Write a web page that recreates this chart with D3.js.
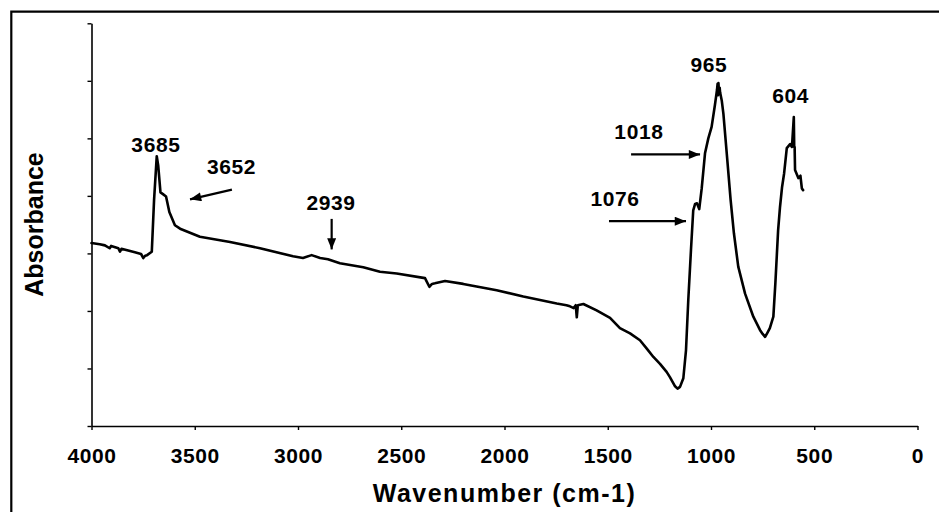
<!DOCTYPE html>
<html>
<head>
<meta charset="utf-8">
<script src="https://cdn.jsdelivr.net/npm/d3@7"></script>
<style>
  html, body { margin: 0; padding: 0; background: #fff; }
  svg { display: block; }
  text { font-family: "Liberation Sans", Arial, Helvetica, sans-serif; font-weight: bold; fill: #000; }
</style>
</head>
<body>
<svg id="chart" width="939" height="512"></svg>
<script>
// ---- data ----
const wavenumber = [4000,3960,3935,3912,3905,3870,3862,3855,3813,3790,3760,3749,3740,3731,3708,3697,3684,3677,3666,3654,3639,3623,3596,3571,3475,3329,3184,3024,2976,2934,2893,2855,2797,2684,2603,2522,2385,2364,2351,2337,2288,2200,2038,1909,1747,1700,1683,1665,1655,1650,1645,1618,1554,1489,1441,1392,1344,1310,1279,1247,1215,1199,1174,1162,1150,1134,1121,1110,1097,1086,1077,1068,1057,1045,1029,1013,997,981,971,968,966,964,961,958,956,948,940,921,905,889,868,835,795,763,750,738,727,715,698,688,675,666,656,646,633,617,608,599,597,595,593,577,567,560,554,550];
const absorbance = [3.18,3.16,3.14,3.09,3.13,3.09,3.03,3.08,3.04,3.02,2.99,2.92,2.96,2.97,3.03,3.93,4.69,4.53,4.06,4.03,3.99,3.72,3.49,3.43,3.29,3.20,3.09,2.95,2.92,2.97,2.92,2.90,2.83,2.76,2.68,2.65,2.57,2.42,2.47,2.48,2.52,2.47,2.36,2.25,2.13,2.10,2.08,2.05,2.10,1.89,2.10,2.12,2.01,1.88,1.70,1.61,1.49,1.34,1.20,1.08,0.94,0.85,0.69,0.65,0.68,0.83,1.32,2.19,3.06,3.75,3.86,3.87,3.77,4.13,4.74,5.00,5.20,5.58,5.84,5.95,5.75,5.96,5.78,5.88,5.80,5.66,5.43,4.62,3.93,3.35,2.77,2.30,1.90,1.67,1.60,1.55,1.62,1.70,1.90,2.50,3.40,3.80,4.15,4.39,4.83,4.90,4.85,5.37,4.85,4.85,4.45,4.31,4.35,4.13,4.10];

const xTicks = [4000,3500,3000,2500,2000,1500,1000,500,0];
const yTicks = [0,1,2,3,4,5,6,7];

// annotation labels (data coordinates)
const labelText = ["3685","3652","2939","1018","1076","965","604"];
const labelWn   = [3688, 3322, 2840, 1349, 1465, 1010, 614];
const labelAbs  = [4.76, 4.38, 3.75, 4.99, 3.82, 6.15, 5.61];

// arrows (data coordinates): from -> to
const arrowFromWn  = [3320, 2837, 1387, 1494];
const arrowFromAbs = [4.11, 3.60, 4.72, 3.56];
const arrowToWn    = [3523, 2837, 1053, 1121];
const arrowToAbs   = [3.94, 3.07, 4.72, 3.56];

// ---- drawing ----
const svg = d3.select("#chart");
const W = 939, H = 512;
const mLeft = 91.5, mRight = 917.5, mTop = 23.3, mBottom = 426;

svg.append("rect").attr("width", W).attr("height", H).attr("fill", "#fff");

// outer frame (left and top)
svg.append("path")
  .attr("d", `M11.3,${H} L11.3,11.7 L${W},11.7`)
  .attr("fill", "none").attr("stroke", "#000").attr("stroke-width", 2.2);

const x = d3.scaleLinear().domain([4000, 0]).range([mLeft, mRight]);
const y = d3.scaleLinear().domain([0, 7]).range([mBottom, mTop]);

// x axis
const xAxis = svg.append("g").attr("transform", `translate(0,${mBottom})`)
  .call(d3.axisBottom(x).tickValues(xTicks).tickSize(4).tickSizeOuter(0).tickFormat(d3.format("d")));
xAxis.select(".domain").attr("stroke-width", 1.6);
xAxis.selectAll(".tick line").attr("stroke-width", 1.4);
xAxis.selectAll(".tick text")
  .attr("y", 37).attr("dy", 0)
  .style("font-size", "21px").style("letter-spacing", "0.6px")
  .style("font-family", "'Liberation Sans', Arial, sans-serif").style("font-weight", "bold");

// y axis
const yAxis = svg.append("g").attr("transform", `translate(${mLeft},0)`)
  .call(d3.axisLeft(y).tickValues(yTicks).tickSize(4).tickSizeOuter(0).tickFormat(""));
yAxis.select(".domain").attr("stroke-width", 1.6);
yAxis.selectAll(".tick line").attr("stroke-width", 1.4);

// spectrum line
const pts = wavenumber.map((w, i) => [w, absorbance[i]]);
svg.append("path")
  .datum(pts)
  .attr("fill", "none").attr("stroke", "#000").attr("stroke-width", 2.6)
  .attr("stroke-linejoin", "round").attr("stroke-linecap", "round")
  .attr("d", d3.line().x(d => x(d[0])).y(d => y(d[1])));

// arrowhead marker
svg.append("defs").append("marker")
  .attr("id", "ah").attr("viewBox", "0 0 10 8").attr("refX", 10).attr("refY", 4)
  .attr("markerUnits", "userSpaceOnUse").attr("markerWidth", 12).attr("markerHeight", 9)
  .attr("orient", "auto")
  .append("path").attr("d", "M0,0 L10,4 L0,8 Z").attr("fill", "#000");

arrowFromWn.forEach((w, i) => {
  svg.append("line")
    .attr("x1", x(w)).attr("y1", y(arrowFromAbs[i]))
    .attr("x2", x(arrowToWn[i])).attr("y2", y(arrowToAbs[i]))
    .attr("stroke", "#000").attr("stroke-width", 2.2)
    .attr("marker-end", "url(#ah)");
});

// labels
labelText.forEach((t, i) => {
  svg.append("text")
    .attr("x", x(labelWn[i])).attr("y", y(labelAbs[i]))
    .attr("text-anchor", "middle")
    .style("font-size", "21px").style("letter-spacing", "0.6px")
    .text(t);
});

// axis titles
svg.append("text")
  .attr("x", (mLeft + mRight) / 2).attr("y", 501.5)
  .attr("text-anchor", "middle")
  .style("font-size", "25px").style("letter-spacing", "1.5px")
  .text("Wavenumber (cm-1)");

svg.append("text")
  .attr("transform", `translate(43,224.5) rotate(-90)`)
  .attr("text-anchor", "middle")
  .style("font-size", "25px")
  .text("Absorbance");
</script>
</body>
</html>
